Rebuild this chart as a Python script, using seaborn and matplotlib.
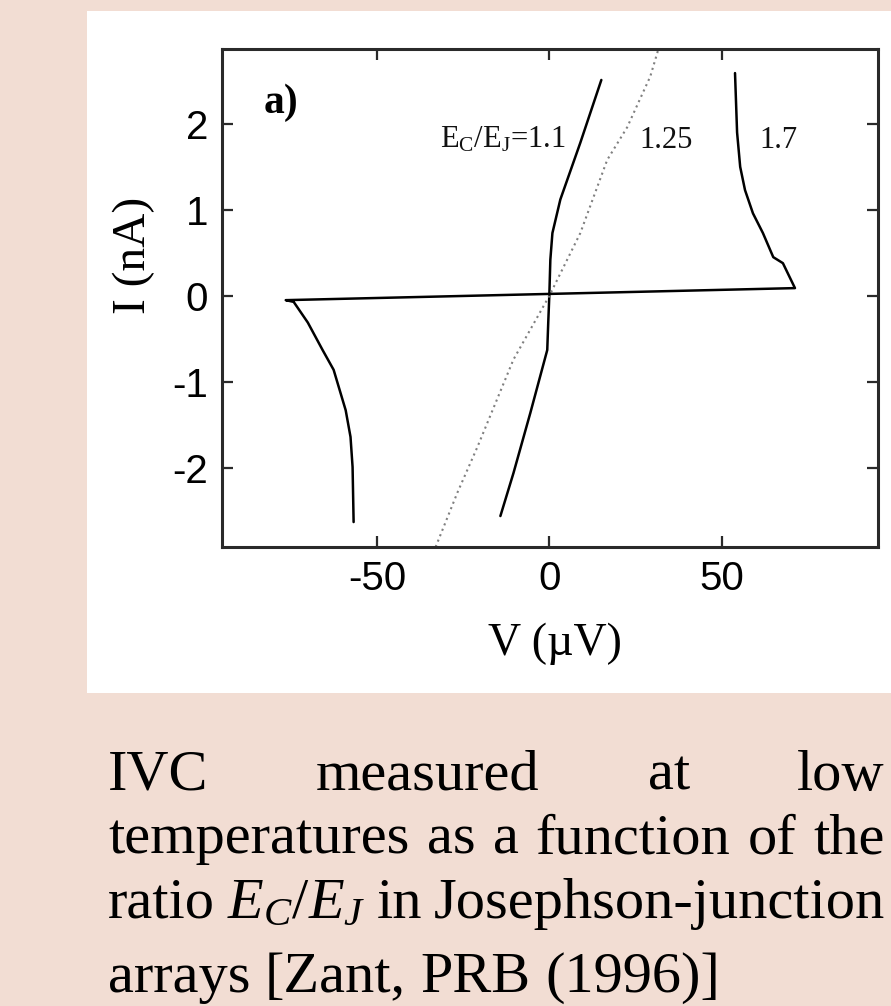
import matplotlib
matplotlib.use("Agg")
import matplotlib.pyplot as plt
from matplotlib.patches import Rectangle
import seaborn as sns

# Current-voltage characteristics (V in microvolts, I in nA) for three E_C/E_J ratios
v_ratio_1p1 = [-14.2, -10.4, -5.5, -0.6, -0.3, 0.0, 0.3, 0.9, 3.2, 9.0, 15.1]
i_ratio_1p1 = [-2.56, -2.06, -1.36, -0.63, -0.30, 0.0, 0.42, 0.73, 1.12, 1.78, 2.51]

v_ratio_1p25 = [-33.0, -26.7, -20.9, -10.4, 0.0, 9.0, 16.8, 22.6, 29.3, 31.6]
i_ratio_1p25 = [-2.92, -2.29, -1.76, -0.74, 0.0, 0.73, 1.58, 1.96, 2.55, 2.86]

v_ratio_1p7 = [-56.8, -57.1, -57.7, -59.1, -62.6, -65.8, -70.1, -74.2, -76.5,
               71.3, 67.8, 65.0, 62.0, 59.1, 56.8, 55.4, 54.5, 53.9]
i_ratio_1p7 = [-2.63, -1.99, -1.64, -1.33, -0.86, -0.63, -0.31, -0.07, -0.05,
               0.09, 0.38, 0.45, 0.73, 0.96, 1.23, 1.50, 1.90, 2.59]

curve_labels = [r"$\mathrm{E_C/E_J}$=1.1", "1.25", "1.7"]
label_pos_v = [-31.6, 26.1, 60.9]
label_pos_i = [1.72, 1.72, 1.72]

x_ticks = [-50, 0, 50]
y_ticks = [-2, -1, 0, 1, 2]

caption_lines = [
    ["IVC", "measured", "at", "low"],
    ["temperatures", "as", "a", "function", "of", "the"],
    ["ratio", r"$E_C/E_J$", "in", "Josephson-junction"],
    ["arrays", "[Zant,", "PRB", "(1996)]"],
]

W, H = 891, 1006
sns.set_style("ticks")
plt.rcParams.update({
    "font.family": ["Liberation Serif", "DejaVu Serif"],
    "mathtext.fontset": "custom",
    "mathtext.rm": "Liberation Serif",
    "mathtext.it": "Liberation Serif:italic",
    "mathtext.bf": "Liberation Serif:bold",
    "axes.unicode_minus": False,
})

fig = plt.figure(figsize=(W / 100, H / 100), dpi=100, facecolor="#F2DDD3")

# white panel holding the plot
fig.add_artist(Rectangle((87 / W, 1 - 693 / H), 1 - 87 / W, (693 - 11) / H,
                         transform=fig.transFigure, facecolor="white",
                         edgecolor="none", zorder=0))

ax = fig.add_axes([222 / W, 1 - 547 / H, (878 - 222) / W, (547 - 49) / H])
ax.set_facecolor("white")

sns.lineplot(x=v_ratio_1p1, y=i_ratio_1p1, sort=False, estimator=None,
             color="black", lw=1.8, ax=ax)
sns.lineplot(x=v_ratio_1p25, y=i_ratio_1p25, sort=False, estimator=None,
             color="#808080", lw=1.5, linestyle=(0, (1, 1.8)), ax=ax)
sns.lineplot(x=v_ratio_1p7, y=i_ratio_1p7, sort=False, estimator=None,
             color="black", lw=1.8, ax=ax)

ax.set_xlim(-95, 95.4)
ax.set_ylim(-2.92, 2.87)
ax.set_xticks(x_ticks)
ax.set_yticks(y_ticks)

for s in ax.spines.values():
    s.set_visible(True)
    s.set_color("#2a2a2a")
    s.set_linewidth(2.2)

ax.tick_params(direction="in", length=8, width=1.6, top=True, right=True,
               color="#2a2a2a")
ax.tick_params(axis="x", pad=9)
ax.tick_params(axis="y", pad=10)
for lab in ax.get_xticklabels() + ax.get_yticklabels():
    lab.set_fontfamily("Liberation Sans")
    lab.set_fontsize(29)
    lab.set_color("black")

ax.set_xlabel("V (\u00b5V)", fontsize=33, color="black")
ax.set_ylabel("I (nA)", fontsize=34, color="black")
ax.xaxis.label.set_va("center")
ax.yaxis.label.set_va("center")
ax.xaxis.set_label_coords((555 - 222) / 656, (H - 644 - (H - 547)) / 498)
ax.yaxis.set_label_coords((134 - 222) / 656, (H - 255 - (H - 547)) / 498)

ax.text(-82.9, 2.24, "a)", fontsize=30, fontweight="bold", va="center",
        ha="left", color="black")
for txt, xv, yv in zip(curve_labels, label_pos_v, label_pos_i):
    ax.text(xv, yv, txt, fontsize=22, va="baseline", ha="left", color="#111111")

# justified caption below the panel
renderer = fig.canvas.get_renderer()
baselines = [790, 853, 918, 992]
left_px, right_px = 108, 885
for k, (words, base) in enumerate(zip(caption_lines, baselines)):
    items = [fig.text(0, 1 - base / H, w, fontsize=42, va="baseline",
                      ha="left", color="black") for w in words]
    widths = [t.get_window_extent(renderer).width for t in items]
    if k < len(caption_lines) - 1:
        gap = (right_px - left_px - sum(widths)) / (len(words) - 1)
    else:
        gap = 0.25 * 42 * 100 / 72
    x = left_px
    for t, w in zip(items, widths):
        t.set_x(x / W)
        x += w + gap

fig.savefig("out.png", dpi=100, facecolor=fig.get_facecolor())
